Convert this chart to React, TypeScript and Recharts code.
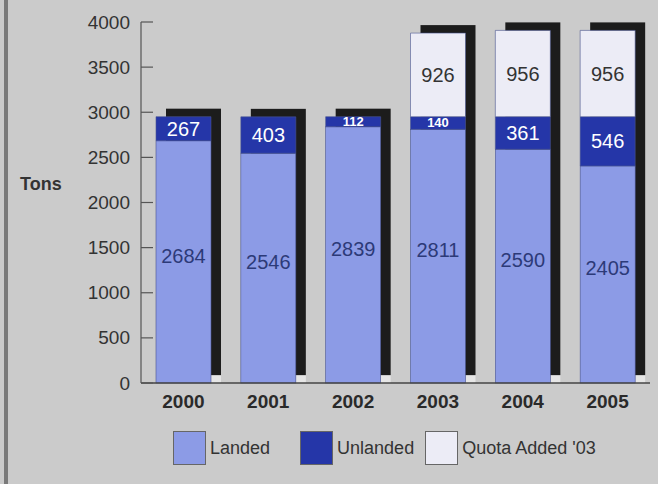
import React from 'react';
import { BarChart, Bar, XAxis, YAxis, LabelList } from 'recharts';

const years = ['2000', '2001', '2002', '2003', '2004', '2005'];
const landed = [2684, 2546, 2839, 2811, 2590, 2405];
const unlanded = [267, 403, 112, 140, 361, 546];
const quotaAdded = [0, 0, 0, 926, 956, 956];
const yTicks = [0, 500, 1000, 1500, 2000, 2500, 3000, 3500, 4000];

const series = [
  { key: 'landed', name: 'Landed', color: '#8c9be6', text: '#2c3a78', gap: 30 },
  { key: 'unlanded', name: 'Unlanded', color: '#2536a8', text: '#ffffff', gap: 11 },
  { key: 'quota', name: "Quota Added '03", color: '#ececf6', text: '#333333', gap: 0 },
];

const data = years.map((year, i) => ({
  year,
  landed: landed[i],
  unlanded: unlanded[i],
  quota: quotaAdded[i],
}));

const FONT = '"Liberation Sans", Arial, sans-serif';

// landed segment draws the dark drop shadow of the whole stack behind itself
const ShadowBar = (props: any) => {
  const { x, y, width, height, payload, fill } = props;
  const ppu = height / payload.landed;
  const total = (payload.landed + payload.unlanded + payload.quota) * ppu;
  const base = y + height;
  return (
    <g>
      <rect x={x + 10} y={base - total - 8} width={width} height={total} fill="#1c1c1c" />
      <rect x={x + width} y={base - 7} width={10} height={7} fill="#e6e6e6" />
      <rect x={x} y={y} width={width} height={height} fill={fill} stroke="#4a5590" strokeWidth={0.6} />
    </g>
  );
};

const segLabel = (color: string, dy: number) => (props: any) => {
  const { x, y, width, height, value } = props;
  if (!value) return null;
  const small = Math.abs(height) < 20;
  return (
    <text
      x={x + width / 2}
      y={y + height / 2 + (small ? 0 : dy)}
      textAnchor="middle"
      dominantBaseline="central"
      fill={color}
      fontFamily={FONT}
      fontSize={small ? 13 : 20}
      fontWeight={small ? 700 : 400}
    >
      {value}
    </text>
  );
};

const YTick = (props: any) => {
  const { x, y, payload } = props;
  return (
    <g>
      <line x1={x + 11} x2={x + 23} y1={y} y2={y} stroke="#555" strokeWidth={1.2} />
      <text x={x} y={y} textAnchor="end" dominantBaseline="central" fill="#333" fontFamily={FONT} fontSize={19}>
        {payload.value}
      </text>
    </g>
  );
};

const XTick = (props: any) => {
  const { x, y, payload } = props;
  return (
    <text x={x} y={y + 10} textAnchor="middle" dominantBaseline="central" fill="#2a2a2a" fontFamily={FONT} fontSize={19} fontWeight={700}>
      {payload.value}
    </text>
  );
};

export default function App() {
  return (
    <div
      style={{
        position: 'absolute',
        left: 0,
        top: 0,
        width: 658,
        height: 484,
        background: '#cbcbcb',
        overflow: 'hidden',
      }}
    >
      <div style={{ position: 'absolute', left: 4, top: 0, width: 4, height: 484, background: '#7a7a7a' }} />
      <BarChart
        width={658}
        height={484}
        data={data}
        margin={{ top: 22, right: 8, left: 0, bottom: 71 }}
        barSize={55}
      >
        <XAxis
          dataKey="year"
          axisLine={{ stroke: '#444', strokeWidth: 1.5 }}
          tickLine={false}
          tick={<XTick />}
          height={30}
        />
        <YAxis
          domain={[0, 4000]}
          ticks={yTicks}
          width={141}
          tickSize={0}
          tickMargin={11}
          axisLine={{ stroke: '#555', strokeWidth: 1.2 }}
          tickLine={false}
          tick={<YTick />}
          label={{
            value: 'Tons',
            position: 'insideLeft',
            dx: 15,
            dy: -19,
            style: { fontFamily: FONT, fontSize: 18, fontWeight: 700, fill: '#333' },
          }}
        />
        {series.map((s) => (
          <Bar
            key={s.key}
            dataKey={s.key}
            name={s.name}
            stackId="a"
            fill={s.color}
            isAnimationActive={false}
            shape={s.key === 'landed' ? <ShadowBar /> : undefined}
            stroke={s.key === 'landed' ? undefined : '#4a5590'}
            strokeWidth={0.6}
          >
            <LabelList dataKey={s.key} content={segLabel(s.text, s.key === 'landed' ? -6 : 0)} />
          </Bar>
        ))}
      </BarChart>
      <div
        style={{
          position: 'absolute',
          top: 431,
          left: 173,
          display: 'flex',
          alignItems: 'center',
          fontFamily: FONT,
          fontSize: 18,
          color: '#333',
        }}
      >
        {series.map((s) => (
          <div key={s.key} style={{ display: 'flex', alignItems: 'center', marginRight: s.gap }}>
            <div
              style={{
                width: 31,
                height: 32,
                background: s.color,
                border: '1px solid #666',
                marginRight: 4,
              }}
            />
            <span>{s.name}</span>
          </div>
        ))}
      </div>
    </div>
  );
}
